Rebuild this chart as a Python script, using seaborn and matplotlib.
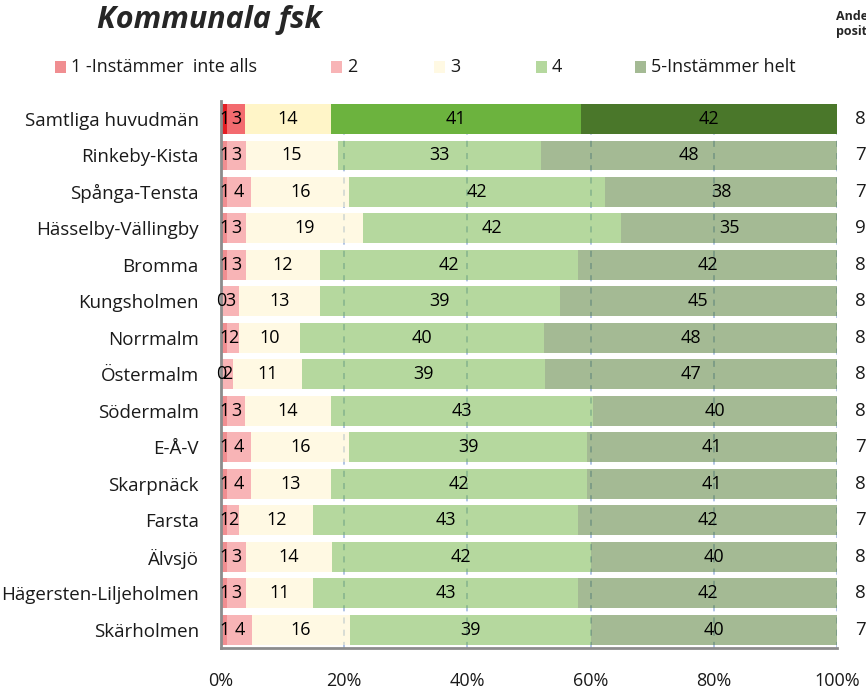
import numpy as np
import pandas as pd
import matplotlib
matplotlib.use("Agg")
import matplotlib.pyplot as plt
import matplotlib.transforms as mtransforms
from matplotlib.patches import Rectangle
import seaborn as sns

# ---------------- data ----------------
categories = ["Samtliga huvudmän", "Rinkeby-Kista", "Spånga-Tensta", "Hässelby-Vällingby",
              "Bromma", "Kungsholmen", "Norrmalm", "Östermalm", "Södermalm", "E-Å-V",
              "Skarpnäck", "Farsta", "Älvsjö", "Hägersten-Liljeholmen", "Skärholmen"]
s1 = [1, 1, 1, 1, 1, 0, 1, 0, 1, 1, 1, 1, 1, 1, 1]
s2 = [3, 3, 4, 3, 3, 3, 2, 2, 3, 4, 4, 2, 3, 3, 4]
s3 = [14, 15, 16, 19, 12, 13, 10, 11, 14, 16, 13, 12, 14, 11, 16]
s4 = [41, 33, 42, 42, 42, 39, 40, 39, 43, 39, 42, 43, 42, 43, 39]
s5 = [42, 48, 38, 35, 42, 45, 48, 47, 40, 41, 41, 42, 40, 42, 40]
series_labels = ["1 -Instämmer  inte alls", "2", "3", "4", "5-Instämmer helt"]
x_ticks = [0, 20, 40, 60, 80, 100]
x_ticklabels = ["0%", "20%", "40%", "60%", "80%", "100%"]
right_values = ["8", "7", "7", "9", "8", "8", "8", "8", "8", "7", "8", "7", "8", "8", "7"]
title = "Kommunala fsk"
right_header = ["Andel", "positiva"]

# ---------------- style ----------------
strong_colors = ["#e31e24", "#f36b6f", "#fff5c8", "#6cb33e", "#4a772a"]
light_alpha = 0.5
FONT = ["Open Sans", "DejaVu Sans"]

sns.set_theme(style="white")
plt.rcParams["font.family"] = FONT

fig = plt.figure(figsize=(8.66, 6.90), dpi=100)
ax = fig.add_axes([221 / 866, 42 / 690, 616 / 866, (648 - 100.75) / 690])

series = [np.array(s, dtype=float) for s in (s1, s2, s3, s4, s5)]
totals = np.sum(series, axis=0)
lefts = np.zeros(len(categories))

for k, vals in enumerate(series):
    widths = vals / totals * 100.0
    sns.barplot(x=widths, y=categories, orient="h", left=lefts, color=strong_colors[k],
                saturation=1, width=0.82, errorbar=None, alpha=light_alpha,
                linewidth=0, ax=ax)
    cont = ax.containers[-1]
    cont.patches[0].set_alpha(1.0)
    ax.bar_label(cont, labels=[str(int(v)) for v in vals], label_type="center",
                 fontsize=13, color="black")
    lefts = lefts + widths

ax.set_xlim(0, 100)
ax.set_ylim(len(categories) - 0.5, -0.5)
ax.set_xticks(x_ticks)
ax.set_xticklabels(x_ticklabels)
ax.set_xlabel("")
ax.set_ylabel("")
ax.tick_params(axis="x", length=0, pad=17, labelsize=13, labelcolor="#1a1a1a")
ax.tick_params(axis="y", length=0, pad=16, labelsize=13.5, labelcolor="#1a1a1a")

ax.set_axisbelow(True)
ax.xaxis.grid(True, linestyle=(0, (4, 4)), color="#9db4dc", linewidth=1.1)
ax.yaxis.grid(False)
for side in ("top", "right"):
    ax.spines[side].set_visible(False)
for side in ("left", "bottom"):
    ax.spines[side].set_color("#8c8c8c")
    ax.spines[side].set_linewidth(2)

# right-hand (cropped) values
trans = mtransforms.blended_transform_factory(ax.transAxes, ax.transData)
for i, v in enumerate(right_values):
    ax.text((855 - 221) / 616, i, v, transform=trans, ha="left", va="center",
            fontsize=13.5, color="#1a1a1a", clip_on=False)

# title and header
fig.text(97 / 866, 1 - 20 / 690, title, fontsize=22, fontweight="bold",
         fontstyle="italic", ha="left", va="center")
fig.text(836 / 866, 1 - 17 / 690, right_header[0], fontsize=9, fontweight="bold",
         ha="left", va="center")
fig.text(836 / 866, 1 - 31 / 690, right_header[1], fontsize=9, fontweight="bold",
         ha="left", va="center")

# legend (manual layout)
patch_x = [55, 331, 434, 536, 635]
ly = 1 - 67 / 690
for k, lab in enumerate(series_labels):
    fig.patches.append(Rectangle((patch_x[k] / 866, ly - 6 / 690), 11 / 866, 12 / 690,
                                 transform=fig.transFigure, facecolor=strong_colors[k],
                                 alpha=light_alpha, edgecolor="none"))
    fig.text((patch_x[k] + 16) / 866, ly, lab, fontsize=13, ha="left", va="center",
             color="#1a1a1a")

fig.savefig("out.png", dpi=100)
